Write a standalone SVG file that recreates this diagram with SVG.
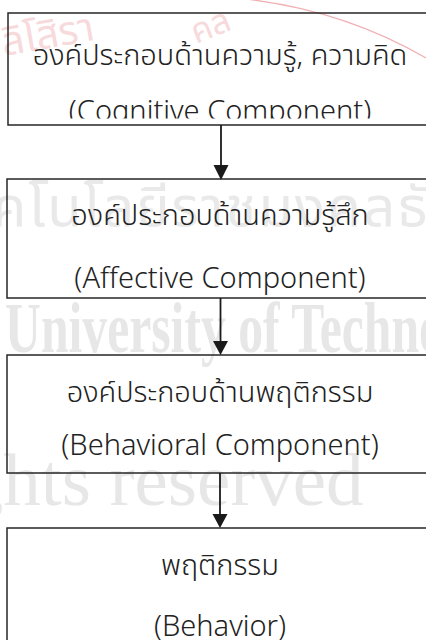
<svg xmlns="http://www.w3.org/2000/svg" width="426" height="640" viewBox="0 0 426 640">
<style>
.box{fill:none;stroke:#262626;stroke-width:1.5}
.t{font-family:"Noto Sans","Noto Sans Thai","Leelawadee UI",sans-serif;font-size:29px;font-weight:300;fill:#222;text-anchor:middle}
.wm{font-family:"Liberation Serif",serif;fill:#e7e7e7}
.wmt{font-family:"Noto Sans","Noto Sans Thai",sans-serif;fill:#e9e9e9}
.wmp{font-family:"Noto Sans","Noto Sans Thai",sans-serif;fill:#f7dadc}
.ln{stroke:#1a1a1a;stroke-width:1.8;fill:none}
.hd{fill:#1a1a1a}
</style>
<defs>
<clipPath id="c1"><rect x="8" y="13" width="430" height="105.5"/></clipPath>
</defs>
<rect width="426" height="640" fill="#ffffff"/>
<g id="watermark">
<path d="M236,-2 Q340,8 426,58" fill="none" stroke="#f0b0b4" stroke-width="1.2"/>
<text class="wmp" font-size="40" transform="translate(4,56) rotate(-10)">ลิโสิรา</text>
<text class="wmp" font-size="34" transform="translate(196,44) rotate(-22)">คล</text>
<text class="wmt" font-size="56" x="-8" y="226" letter-spacing="2">คโนโลยีราชมงคลธัญบุรี</text>
<text class="wm" font-size="71" font-weight="bold" transform="translate(5,352) scale(0.7,1)">University of Technology</text>
<text class="wm" font-size="75" x="-80" y="505">rights reserved</text>
</g>
<g id="n1">
<rect class="box" x="8" y="13" width="430" height="112"/>
<text class="t" x="220" y="65">องค์ประกอบด้านความรู้, ความคิด</text>
<text class="t" x="220" y="121" clip-path="url(#c1)">(Cognitive Component)</text>
</g>
<g id="n2">
<rect class="box" x="7" y="179" width="431" height="119"/>
<text class="t" x="220" y="225">องค์ประกอบด้านความรู้สึก</text>
<text class="t" x="220" y="288">(Affective Component)</text>
</g>
<g id="n3">
<rect class="box" x="7" y="355" width="431" height="118"/>
<text class="t" x="220" y="402">องค์ประกอบด้านพฤติกรรม</text>
<text class="t" x="220" y="455">(Behavioral Component)</text>
</g>
<g id="n4">
<rect class="box" x="7" y="528" width="431" height="130"/>
<text class="t" x="220" y="575">พฤติกรรม</text>
<text class="t" x="220" y="636">(Behavior)</text>
</g>
<g id="connectors">
<line class="ln" x1="221" y1="125" x2="221" y2="166"/>
<polygon class="hd" points="213.5,165 228.5,165 221,180"/>
<line class="ln" x1="220.5" y1="298" x2="220.5" y2="342"/>
<polygon class="hd" points="213,341 228,341 220.5,355"/>
<line class="ln" x1="220" y1="473" x2="220" y2="515"/>
<polygon class="hd" points="212.5,514 227.5,514 220,528"/>
</g>
</svg>
